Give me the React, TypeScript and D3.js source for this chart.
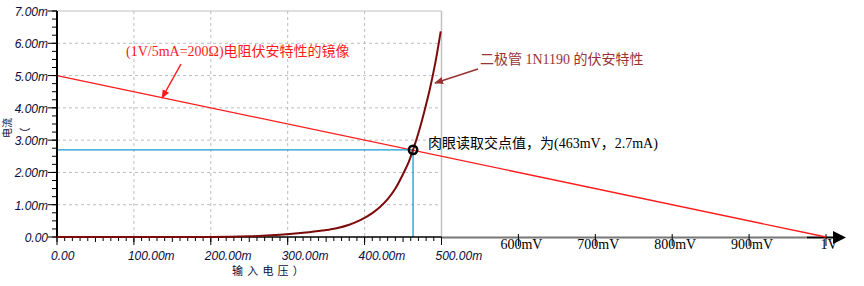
import React from "react";
import * as d3 from "d3";

// ---- data ----
const diodeVoltage = [0, 100, 200, 250, 290, 320, 345, 365, 380, 395, 410, 420, 430, 440, 450, 457, 463, 470, 478, 485, 492, 499]; // mV
const diodeCurrent = [0, 0, 0, 0.02, 0.07, 0.13, 0.2, 0.28, 0.38, 0.53, 0.74, 0.93, 1.17, 1.5, 1.95, 2.3, 2.7, 3.22, 3.92, 4.6, 5.4, 6.37]; // mA
const loadLineVoltage = [0, 1000]; // mV
const loadLineCurrent = [5, 0]; // mA
const operatingPoint = { v: 463, i: 2.7 };
const xTickValues = [0, 100, 200, 300, 400, 500];
const xTickLabels = ["0.00", "100.00m", "200.00m", "300.00m", "400.00m", "500.00m"];
const yTickValues = [0, 1, 2, 3, 4, 5, 6, 7];
const yTickLabels = ["0.00", "1.00m", "2.00m", "3.00m", "4.00m", "5.00m", "6.00m", "7.00m"];
const extTickValues = [600, 700, 800, 900, 1000];
const extTickLabels = ["600mV", "700mV", "800mV", "900mV", "1V"];

const W = 864;
const H = 286;

export default function App() {
  const x = d3.scaleLinear().domain([0, 1000]).range([57, 826]);
  const y = d3.scaleLinear().domain([0, 7]).range([237, 11]);
  const xEnd = x(500);
  const yTop = y(7);
  const y0 = y(0);

  const minorX = d3.range(0, 501, 10);
  const minorY = d3.range(0, 7.001, 0.25);

  const diodeLine = d3
    .line<number>()
    .x((_, k) => x(diodeVoltage[k]))
    .y((d) => y(d))
    .curve(d3.curveMonotoneX);

  const labelColor = "#0b0b3b";
  const italicFont = "'Liberation Sans', Arial, sans-serif";
  const mixFont = "'Liberation Serif', 'Noto Sans CJK SC', serif";
  const cjkFont = "'Noto Sans CJK SC', sans-serif";

  const px = x(operatingPoint.v);
  const py = y(operatingPoint.i);

  return (
    <div style={{ position: "absolute", left: 0, top: 0, width: W, height: H, background: "#fff" }}>
      <svg width={W} height={H} style={{ display: "block" }}>
        <defs>
          <marker id="arrRed" viewBox="0 0 10 10" refX="9" refY="5" markerWidth="9" markerHeight="9" orient="auto" markerUnits="userSpaceOnUse">
            <path d="M0,1 L10,5 L0,9 z" fill="#ff1a1a" />
          </marker>
          <marker id="arrBrown" viewBox="0 0 10 10" refX="9" refY="5" markerWidth="9" markerHeight="9" orient="auto" markerUnits="userSpaceOnUse">
            <path d="M0,1 L10,5 L0,9 z" fill="#993333" />
          </marker>
        </defs>

        {/* grid */}
        {xTickValues.slice(1, -1).map((v) => (
          <line key={"gx" + v} x1={x(v)} x2={x(v)} y1={yTop} y2={y0} stroke="#bdbdbd" strokeDasharray="3,3" />
        ))}
        {yTickValues.slice(1, -1).map((v) => (
          <line key={"gy" + v} x1={x(0)} x2={xEnd} y1={y(v)} y2={y(v)} stroke="#bdbdbd" strokeDasharray="3,3" />
        ))}
        {/* frame top / right */}
        <line x1={x(0)} x2={xEnd} y1={yTop} y2={yTop} stroke="#c0c0c0" strokeWidth={1.2} />
        <line x1={xEnd} x2={xEnd} y1={yTop} y2={y0} stroke="#c0c0c0" strokeWidth={1.5} />

        {/* x axis extension */}
        <line x1={xEnd} x2={807} y1={y0 + 0.5} y2={y0 + 0.5} stroke="#777" strokeWidth={2} />
        <line x1={807} x2={834} y1={y0 + 0.5} y2={y0 + 0.5} stroke="#000" strokeWidth={2} />
        <path d={`M833,${y0 - 6} L846,${y0 + 0.5} L833,${y0 + 7} z`} fill="#000" />
        {extTickValues.map((v, k) => (
          <g key={"et" + v}>
            <line x1={x(v)} x2={x(v)} y1={y0 - 3} y2={y0 + 9} stroke="#000" strokeWidth={1} />
            <text x={x(v) + 3} y={y0 + 12} textAnchor="middle" fontFamily={mixFont} fontSize={14} fill="#000">
              {extTickLabels[k]}
            </text>
          </g>
        ))}

        {/* load line */}
        <line
          x1={x(loadLineVoltage[0])}
          y1={y(loadLineCurrent[0])}
          x2={x(loadLineVoltage[1])}
          y2={y(loadLineCurrent[1])}
          stroke="#ff1a1a"
          strokeWidth={1.3}
        />

        {/* operating point guides */}
        <line x1={x(0)} x2={px} y1={py} y2={py} stroke="#1a9ad6" strokeWidth={1.3} />
        <line x1={px} x2={px} y1={py} y2={y0} stroke="#1a9ad6" strokeWidth={1.3} />

        {/* y axis */}
        <line x1={x(0)} x2={x(0)} y1={yTop} y2={y0} stroke="#000" strokeWidth={2} />
        {minorY.map((v) => (
          <line key={"my" + v} x1={x(0) - 5} x2={x(0)} y1={y(v)} y2={y(v)} stroke="#000" strokeWidth={1} />
        ))}
        {yTickValues.map((v, k) => (
          <g key={"yt" + v}>
            <line x1={x(0) - 9} x2={x(0)} y1={y(v)} y2={y(v)} stroke="#000" strokeWidth={1} />
            <text x={48} y={y(v) + 5} textAnchor="end" fontFamily={italicFont} fontStyle="italic" fontSize={12} fill={labelColor}>
              {yTickLabels[k]}
            </text>
          </g>
        ))}

        {/* x axis */}
        <line x1={x(0)} x2={xEnd} y1={y0} y2={y0} stroke="#000" strokeWidth={1.5} />
        {minorX.map((v) => (
          <line key={"mx" + v} x1={x(v)} x2={x(v)} y1={y0} y2={y0 + (v % 50 === 0 ? 5 : 4)} stroke="#000" strokeWidth={1} />
        ))}
        {xTickValues.map((v, k) => (
          <g key={"xt" + v}>
            <line x1={x(v)} x2={x(v)} y1={y0} y2={y0 + 8} stroke="#000" strokeWidth={1} />
            <text x={x(v) - 6} y={y0 + 23} textAnchor="start" fontFamily={italicFont} fontStyle="italic" fontSize={12} fill={labelColor}>
              {xTickLabels[k]}
            </text>
          </g>
        ))}

        {/* diode curve */}
        <path d={diodeLine(diodeCurrent) || ""} fill="none" stroke="#7d0a0a" strokeWidth={2} />

        {/* operating point marker */}
        <circle cx={px} cy={py} r={4.2} fill="none" stroke="#000" strokeWidth={2.5} />

        {/* axis titles */}
        <text x={232} y={275} fontFamily={cjkFont} fontSize={11} letterSpacing={4.2} fill={labelColor}>
          输入电压）
        </text>
        <text transform="translate(11,128) rotate(-90)" fontFamily={cjkFont} fontSize={10} fill={labelColor} textAnchor="middle">
          电流
        </text>
        <text transform="translate(29,133) rotate(-90)" fontFamily={cjkFont} fontSize={11} fill={labelColor} textAnchor="middle">
          （
        </text>

        {/* annotations */}
        <text x={126} y={56} fontFamily={mixFont} fontSize={14} fill="#ff1a1a">
          (1V/5mA=200Ω)电阻伏安特性的镜像
        </text>
        <line x1={181} y1={64} x2={162} y2={98} stroke="#ff1a1a" strokeWidth={1.5} markerEnd="url(#arrRed)" />

        <text x={480} y={64} fontFamily={mixFont} fontSize={14} fill="#993333">
          二极管 1N1190 的伏安特性
        </text>
        <line x1={478} y1={69} x2={435} y2={83} stroke="#993333" strokeWidth={1.5} markerEnd="url(#arrBrown)" />

        <text x={428} y={148} fontFamily={mixFont} fontSize={14} fill="#000">
          肉眼读取交点值，为(463mV，2.7mA)
        </text>
      </svg>
    </div>
  );
}
